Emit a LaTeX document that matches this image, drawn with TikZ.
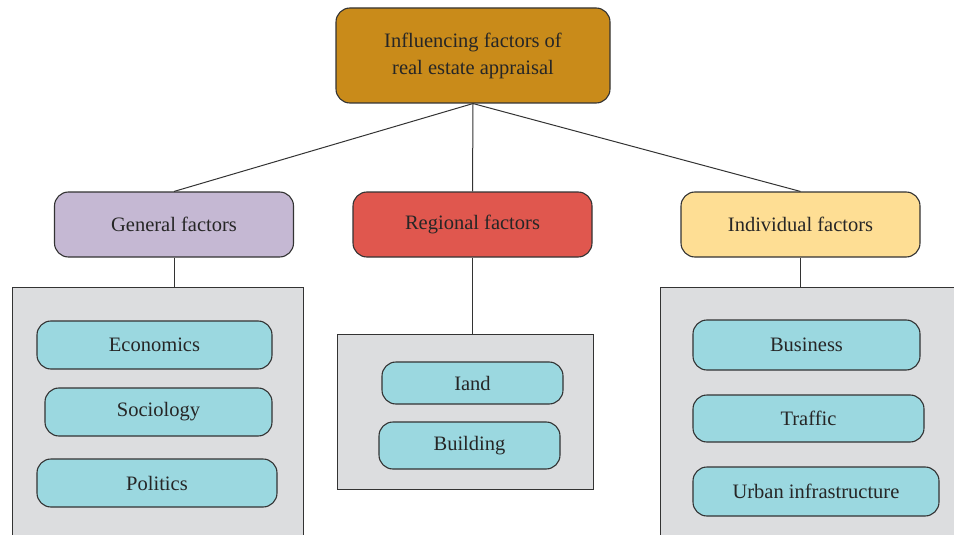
\documentclass[tikz,border=0pt]{standalone}
\usepackage{fontspec}
\setmainfont{Liberation Serif}
\definecolor{topc}{HTML}{C98B1A}
\definecolor{genc}{HTML}{C5B8D3}
\definecolor{regc}{HTML}{E0574E}
\definecolor{indc}{HTML}{FEDE94}
\definecolor{grayc}{HTML}{DCDDDF}
\definecolor{itemc}{HTML}{9BD8E0}
\definecolor{linec}{HTML}{333333}
\begin{document}
\begin{tikzpicture}[x=1pt,y=-1pt,
  rbox/.style={draw=linec, line width=1.1pt, rounded corners=14pt, inner sep=0pt,
    font=\fontsize{20.5}{27}\selectfont, text=black!85, align=center},
  panel/.style={draw=linec, line width=1.1pt, fill=grayc, inner sep=0pt},
  conn/.style={draw=linec, line width=1pt}]
\useasboundingbox (0,0) rectangle (954,535);
\clip (0,0) rectangle (954,535);
% panels
\node[panel, minimum width=291pt, minimum height=270pt, anchor=north west] (pl) at (12,287) {};
\node[panel, minimum width=256pt, minimum height=155pt, anchor=north west] (pm) at (337,334) {};
\node[panel, minimum width=310pt, minimum height=270pt, anchor=north west] (pr) at (660,287) {};
% top
\node[rbox, fill=topc, minimum width=274pt, minimum height=95pt] (top) at (473,55.5) {Influencing factors of\\real estate appraisal};
% level 2
\node[rbox, fill=genc, minimum width=239pt, minimum height=65pt] (gen) at (174,224.5) {General factors};
\node[rbox, fill=regc, minimum width=239pt, minimum height=65pt] (reg) at (472.5,224.5) {Regional factors};
\node[rbox, fill=indc, minimum width=239pt, minimum height=65pt] (ind) at (800.5,224.5) {Individual factors};
% items left
\node[rbox, fill=itemc, minimum width=235pt, minimum height=48pt] (eco) at (154.5,345) {Economics};
\node[rbox, fill=itemc, minimum width=227pt, minimum height=48pt] (soc) at (158.5,412) {Sociology};
\node[rbox, fill=itemc, minimum width=240pt, minimum height=48pt] (pol) at (157,483) {Politics};
% items middle
\node[rbox, fill=itemc, minimum width=181pt, minimum height=42pt] (lnd) at (472.5,383) {Iand};
\node[rbox, fill=itemc, minimum width=181pt, minimum height=47pt] (bld) at (469.5,445.5) {Building};
% items right
\node[rbox, fill=itemc, minimum width=227pt, minimum height=50pt] (bus) at (806.5,345) {Business};
\node[rbox, fill=itemc, minimum width=231pt, minimum height=47pt] (trf) at (808.5,418.5) {Traffic};
\node[rbox, fill=itemc, minimum width=246pt, minimum height=49pt] (urb) at (816,491.5) {Urban infrastructure};
% connectors
\draw[conn] (top.south) -- (gen.north);
\draw[conn] (top.south) -- (reg.north);
\draw[conn] (top.south) -- (ind.north);
\draw[conn] (gen.south) -- (pl.north -| gen.south);
\draw[conn] (reg.south) -- (pm.north -| reg.south);
\draw[conn] (ind.south) -- (pr.north -| ind.south);
\end{tikzpicture}
\end{document}
